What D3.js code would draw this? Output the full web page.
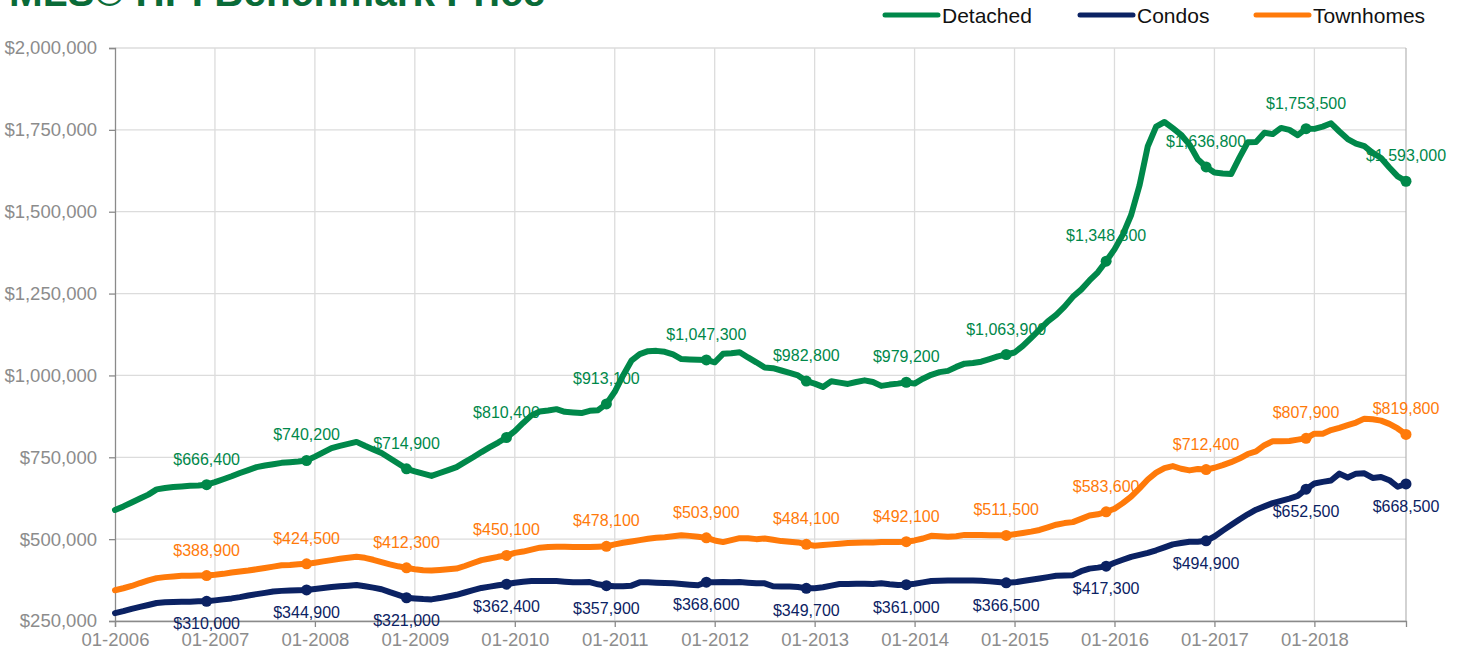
<!DOCTYPE html>
<html>
<head>
<meta charset="utf-8">
<script src="https://cdn.jsdelivr.net/npm/d3@7"></script>
<style>
  body { margin: 0; background: #fff; }
  svg { display: block; font-family: "Liberation Sans", Arial, sans-serif; }
</style>
</head>
<body>
<svg width="1463" height="658"></svg>
<script>
// monthly benchmark prices, 01-2006 .. 12-2018 (in $000)
var detached = [
  589, 600, 612, 624, 636, 652, 656, 659, 661, 663, 664, 666.4,
  674, 683, 692, 702, 711, 720, 725, 729, 733, 735, 737, 740.2,
  752, 765, 778, 785, 791, 797, 785, 774, 763, 747, 731, 714.9,
  707, 700, 693, 702, 711, 720, 735, 750, 766, 781, 795, 810.4,
  830, 855, 878, 890, 893, 897, 889, 887, 885, 892, 894, 913.1,
  950, 1000, 1045, 1065, 1074, 1075, 1072, 1064, 1050, 1049, 1048, 1047.3,
  1040, 1066, 1068, 1071, 1055, 1040, 1024, 1022, 1015, 1008, 1000, 982.8,
  975, 965, 982, 978, 974, 980, 985, 980, 968, 972, 975, 979.2,
  975, 990, 1002, 1010, 1014, 1026, 1036, 1038, 1042, 1050, 1058, 1063.9,
  1070, 1090, 1115, 1140, 1165, 1185, 1210, 1240, 1262, 1290, 1315, 1348.8,
  1385, 1430, 1490, 1580, 1700, 1760, 1774, 1755, 1735, 1705, 1660, 1636.8,
  1620, 1617, 1615, 1665, 1712, 1713, 1741, 1737, 1756, 1750, 1734, 1753.5,
  1753, 1760, 1770, 1745, 1722, 1708, 1700, 1680, 1664, 1635, 1608, 1593
];
var condos = [
  274, 280, 287, 293, 299, 305, 307, 308, 309, 309, 310, 310,
  313, 316, 319, 323, 328, 332, 336, 340, 342, 343, 344, 344.9,
  348, 351, 354, 356, 358, 360, 356, 352, 347, 338, 330, 321,
  319, 317, 316, 320, 325, 330, 337, 344, 351, 355, 359, 362.4,
  367, 370, 372, 372, 372, 372, 370, 368, 368, 369, 362, 357.9,
  356, 356, 358, 368, 368, 367, 366, 365, 363, 361, 359, 368.6,
  368, 369, 368, 369, 367, 365, 365, 356, 355, 355, 354, 349.7,
  350, 353, 358, 363, 363, 364, 364, 363, 365, 362, 360, 361,
  364, 368, 372, 373, 374, 374, 374, 374, 373, 371, 369, 366.5,
  368, 372, 376, 380, 384, 388, 389, 390, 402, 410, 413, 417.3,
  428, 437, 446, 452, 458, 466, 475, 484, 488, 492, 492, 494.9,
  508, 526, 543, 560, 576, 590, 600, 610, 617, 624, 632, 652.5,
  670, 675, 679, 700, 688, 700, 701, 687, 690, 680, 660, 668.5
];
var townhomes = [
  344, 350, 357, 366, 374, 381, 384, 386, 388, 388, 389, 388.9,
  391, 394, 398, 401, 404, 408, 412, 416, 420, 421, 423, 424.5,
  428, 432, 436, 440, 443, 446, 443, 437, 430, 423, 417, 412.3,
  408, 405, 404, 406, 408, 410, 418, 427, 436, 441, 446, 450.1,
  458, 462, 468, 474, 476, 477, 477, 476, 476, 476, 477, 478.1,
  484, 489, 493, 497, 501, 504, 506, 509, 512, 510, 507, 503.9,
  496, 491, 497, 503, 503, 500, 502, 498, 494, 492, 490, 484.1,
  480, 482, 484, 486, 488, 489, 490, 490, 491, 491, 491, 492.1,
  496, 502, 510, 509, 507, 509, 513, 513, 513, 512, 512, 511.5,
  515, 519, 523, 528, 536, 544, 549, 552, 562, 572, 576, 583.6,
  593, 610, 630, 655, 682, 703, 717, 723, 715, 710, 714, 712.4,
  718, 726, 735, 746, 760, 768, 787, 799, 799, 800, 804, 807.9,
  822, 822, 833, 840, 848, 856, 868, 866, 862, 852, 838, 819.8
];
var yTicks = [250000, 500000, 750000, 1000000, 1250000, 1500000, 1750000, 2000000];
var years = d3.range(2006, 2019);
var months = [];
years.forEach(function(y) {
  for (var m = 1; m <= 12; m++) months.push((m < 10 ? "0" : "") + m + "-" + y);
});

var series = [
  {name: "Detached", values: detached, color: "#00884a", labelPos: "above"},
  {name: "Condos", values: condos, color: "#0b2263", labelPos: "below"},
  {name: "Townhomes", values: townhomes, color: "#ff7a0a", labelPos: "above"}
];

var svg = d3.select("svg"),
    margin = {top: 48, right: 57, bottom: 37, left: 115},
    width = +svg.attr("width") - margin.left - margin.right,
    height = +svg.attr("height") - margin.top - margin.bottom,
    g = svg.append("g").attr("transform", "translate(" + margin.left + "," + margin.top + ")");

var x = d3.scalePoint().domain(months).range([0, width]);
var y = d3.scaleLinear().domain([250000, 2000000]).range([height, 0]);
var money = function(d) { return "$" + d3.format(",")(Math.round(d)); };

// title (cut by the top edge in the original)
svg.append("text")
    .attr("x", 9).attr("y", 6)
    .attr("font-size", 40.5).attr("font-weight", "bold")
    .attr("fill", "#0a6b38")
    .text("MLS® HPI Benchmark Price");

// grid
g.append("g").selectAll("line").data(yTicks).enter().append("line")
    .attr("x1", 0).attr("x2", width)
    .attr("y1", function(d) { return y(d); }).attr("y2", function(d) { return y(d); })
    .attr("stroke", "#dcdcdc").attr("stroke-width", 1.3);
var yearTicks = months.filter(function(m) { return m.slice(0, 2) == "01"; });
g.append("g").selectAll("line").data(yearTicks.slice(1)).enter().append("line")
    .attr("x1", function(d) { return x(d); }).attr("x2", function(d) { return x(d); })
    .attr("y1", 0).attr("y2", height)
    .attr("stroke", "#dcdcdc").attr("stroke-width", 1.3);
g.append("line")
    .attr("x1", width).attr("x2", width).attr("y1", 0).attr("y2", height)
    .attr("stroke", "#b5b5b5").attr("stroke-width", 1.2);

// axes
var yAxis = g.append("g")
    .call(d3.axisLeft(y).tickValues(yTicks).tickFormat(money).tickSize(6).tickPadding(12));
var xAxis = g.append("g")
    .attr("transform", "translate(0," + height + ")")
    .call(d3.axisBottom(x).tickValues(yearTicks).tickSize(6).tickPadding(6));
[yAxis, xAxis].forEach(function(a) {
  a.select(".domain").attr("stroke", "#8a8a8a").attr("stroke-width", 1.3);
  a.selectAll(".tick line").attr("stroke", "#8a8a8a").attr("stroke-width", 1.3);
  a.selectAll(".tick text").attr("fill", "#8c8c8c")
      .attr("font-size", 18.5).attr("font-family", "Liberation Sans, Arial, sans-serif");
});

// lines, markers and labels
var line = d3.line()
    .x(function(d, i) { return x(months[i]); })
    .y(function(d) { return y(d * 1000); });

series.forEach(function(s) {
  g.append("path")
      .datum(s.values)
      .attr("fill", "none")
      .attr("stroke", s.color)
      .attr("stroke-width", 6)
      .attr("stroke-linejoin", "round")
      .attr("stroke-linecap", "round")
      .attr("d", line);
});

series.forEach(function(s) {
  var pts = months.map(function(m, i) { return {m: m, v: s.values[i] * 1000}; })
      .filter(function(d) { return d.m.slice(0, 2) == "12"; });
  g.append("g").selectAll("circle").data(pts).enter().append("circle")
      .attr("cx", function(d) { return x(d.m); })
      .attr("cy", function(d) { return y(d.v); })
      .attr("r", 5.5)
      .attr("fill", s.color);
  g.append("g").selectAll("text").data(pts).enter().append("text")
      .attr("x", function(d) { return x(d.m); })
      .attr("y", function(d) { return y(d.v) + (s.labelPos == "above" ? -20 : 28); })
      .attr("text-anchor", "middle")
      .attr("font-size", 16)
      .attr("fill", s.color)
      .text(function(d) { return money(d.v); });
});

// legend
var legendX = [883, 1078, 1254];
var legend = svg.append("g").selectAll("g").data(series).enter().append("g")
    .attr("transform", function(d, i) { return "translate(" + legendX[i] + ",15)"; });
legend.append("line")
    .attr("x1", 2).attr("x2", 55)
    .attr("stroke", function(d) { return d.color; })
    .attr("stroke-width", 5).attr("stroke-linecap", "round");
legend.append("text")
    .attr("x", 59).attr("y", 7.5)
    .attr("font-size", 21).attr("fill", "#111")
    .text(function(d) { return d.name; });
</script>
</body>
</html>
